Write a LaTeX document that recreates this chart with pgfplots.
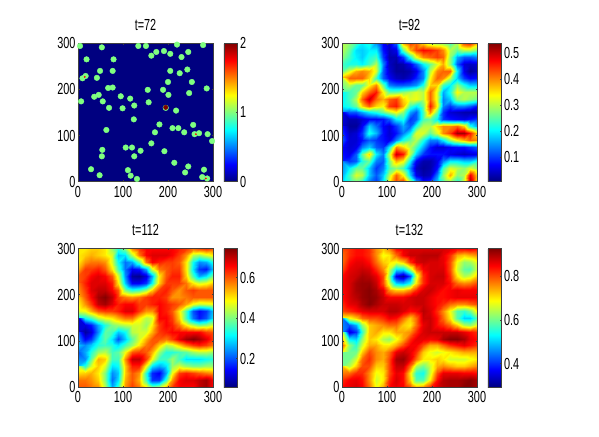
\documentclass[border=0pt]{standalone}
\usepackage{fontspec}
\setmainfont[FakeStretch=0.68]{Liberation Sans}
\usepackage{pgfplots}
\usepackage{pgfplotstable}
\pgfplotsset{compat=1.18}
\definecolor{axgray}{gray}{0.25}
\definecolor{jetbg}{rgb}{0,0,0.5}

% field at t=92, top row is y=300, step 15 in x and y
\pgfplotstableread[row sep=\\,header=false]{
.30\\ .28\\ .24\\ .20\\ .22\\ .15\\ .07\\ .05\\ .12\\ .38\\ .44\\ .42\\ .36\\ .30\\ .28\\ .28\\ .24\\ .30\\ .44\\ .46\\ .38\\
.30\\ .26\\ .19\\ .18\\ .20\\ .20\\ .08\\ .04\\ .06\\ .26\\ .38\\ .44\\ .47\\ .46\\ .44\\ .40\\ .30\\ .26\\ .30\\ .30\\ .27\\
.28\\ .24\\ .20\\ .18\\ .22\\ .24\\ .10\\ .03\\ .03\\ .10\\ .22\\ .33\\ .40\\ .42\\ .44\\ .42\\ .28\\ .16\\ .12\\ .12\\ .14\\
.24\\ .22\\ .22\\ .20\\ .24\\ .30\\ .14\\ .04\\ .02\\ .03\\ .06\\ .12\\ .20\\ .26\\ .32\\ .38\\ .28\\ .12\\ .05\\ .04\\ .05\\
.26\\ .32\\ .38\\ .40\\ .38\\ .32\\ .12\\ .05\\ .02\\ .02\\ .03\\ .06\\ .14\\ .30\\ .40\\ .42\\ .42\\ .20\\ .06\\ .02\\ .04\\
.38\\ .42\\ .42\\ .42\\ .36\\ .24\\ .12\\ .07\\ .04\\ .03\\ .05\\ .09\\ .14\\ .34\\ .42\\ .40\\ .30\\ .18\\ .10\\ .07\\ .08\\
.30\\ .30\\ .26\\ .26\\ .34\\ .40\\ .26\\ .14\\ .12\\ .12\\ .13\\ .15\\ .22\\ .36\\ .36\\ .24\\ .20\\ .28\\ .22\\ .18\\ .18\\
.24\\ .24\\ .26\\ .36\\ .42\\ .46\\ .34\\ .26\\ .26\\ .28\\ .30\\ .32\\ .30\\ .42\\ .32\\ .16\\ .22\\ .34\\ .30\\ .30\\ .30\\
.20\\ .24\\ .30\\ .42\\ .50\\ .42\\ .38\\ .42\\ .44\\ .36\\ .32\\ .33\\ .30\\ .42\\ .32\\ .14\\ .18\\ .28\\ .30\\ .28\\ .26\\
.20\\ .22\\ .26\\ .36\\ .42\\ .36\\ .34\\ .44\\ .46\\ .38\\ .24\\ .20\\ .26\\ .46\\ .34\\ .14\\ .10\\ .14\\ .14\\ .12\\ .08\\
.14\\ .12\\ .12\\ .16\\ .20\\ .22\\ .26\\ .30\\ .34\\ .28\\ .16\\ .12\\ .24\\ .40\\ .26\\ .10\\ .05\\ .04\\ .03\\ .03\\ .03\\
.06\\ .03\\ .03\\ .05\\ .07\\ .07\\ .08\\ .12\\ .20\\ .22\\ .10\\ .12\\ .24\\ .26\\ .20\\ .10\\ .08\\ .07\\ .06\\ .08\\ .10\\
.05\\ .02\\ .02\\ .07\\ .18\\ .13\\ .07\\ .05\\ .10\\ .16\\ .12\\ .22\\ .30\\ .30\\ .36\\ .40\\ .40\\ .42\\ .36\\ .22\\ .16\\
.08\\ .04\\ .05\\ .10\\ .22\\ .17\\ .08\\ .05\\ .08\\ .14\\ .20\\ .32\\ .32\\ .26\\ .32\\ .40\\ .44\\ .52\\ .52\\ .46\\ .36\\
.12\\ .05\\ .05\\ .08\\ .12\\ .10\\ .08\\ .06\\ .14\\ .22\\ .26\\ .30\\ .22\\ .14\\ .14\\ .20\\ .28\\ .34\\ .38\\ .42\\ .40\\
.08\\ .05\\ .06\\ .14\\ .18\\ .12\\ .10\\ .20\\ .40\\ .36\\ .30\\ .24\\ .16\\ .08\\ .05\\ .05\\ .07\\ .08\\ .08\\ .10\\ .12\\
.07\\ .06\\ .12\\ .26\\ .36\\ .20\\ .14\\ .30\\ .50\\ .46\\ .30\\ .18\\ .10\\ .08\\ .08\\ .08\\ .06\\ .05\\ .04\\ .05\\ .06\\
.09\\ .10\\ .12\\ .22\\ .26\\ .14\\ .12\\ .26\\ .38\\ .34\\ .20\\ .07\\ .03\\ .03\\ .06\\ .14\\ .20\\ .20\\ .18\\ .18\\ .22\\
.14\\ .20\\ .26\\ .26\\ .18\\ .10\\ .14\\ .24\\ .28\\ .24\\ .14\\ .04\\ .02\\ .03\\ .08\\ .24\\ .32\\ .30\\ .28\\ .32\\ .28\\
.16\\ .24\\ .32\\ .30\\ .18\\ .12\\ .18\\ .30\\ .42\\ .34\\ .18\\ .06\\ .03\\ .04\\ .14\\ .28\\ .38\\ .28\\ .30\\ .48\\ .36\\
.18\\ .22\\ .26\\ .22\\ .14\\ .10\\ .20\\ .34\\ .44\\ .46\\ .30\\ .16\\ .08\\ .10\\ .18\\ .24\\ .28\\ .22\\ .32\\ .52\\ .34\\
}\fieldB

% field at t=112
\pgfplotstableread[row sep=\\,header=false]{
.50\\ .50\\ .52\\ .52\\ .50\\ .42\\ .34\\ .40\\ .56\\ .62\\ .66\\ .66\\ .66\\ .66\\ .66\\ .64\\ .62\\ .58\\ .60\\ .62\\ .60\\
.50\\ .52\\ .54\\ .52\\ .50\\ .46\\ .28\\ .30\\ .44\\ .58\\ .66\\ .68\\ .68\\ .68\\ .66\\ .62\\ .56\\ .44\\ .42\\ .46\\ .50\\
.50\\ .56\\ .58\\ .58\\ .56\\ .46\\ .32\\ .22\\ .26\\ .38\\ .58\\ .66\\ .64\\ .62\\ .62\\ .60\\ .50\\ .32\\ .24\\ .26\\ .34\\
.54\\ .62\\ .62\\ .64\\ .60\\ .50\\ .36\\ .22\\ .14\\ .16\\ .26\\ .46\\ .58\\ .60\\ .62\\ .62\\ .50\\ .30\\ .18\\ .16\\ .28\\
.60\\ .62\\ .66\\ .68\\ .66\\ .60\\ .46\\ .24\\ .08\\ .07\\ .12\\ .26\\ .50\\ .60\\ .64\\ .64\\ .52\\ .36\\ .26\\ .30\\ .40\\
.60\\ .64\\ .68\\ .68\\ .68\\ .64\\ .50\\ .28\\ .14\\ .14\\ .18\\ .32\\ .52\\ .62\\ .62\\ .62\\ .58\\ .50\\ .46\\ .48\\ .52\\
.58\\ .62\\ .68\\ .70\\ .70\\ .66\\ .60\\ .40\\ .34\\ .36\\ .42\\ .52\\ .62\\ .64\\ .60\\ .56\\ .60\\ .62\\ .60\\ .60\\ .60\\
.54\\ .60\\ .66\\ .72\\ .74\\ .70\\ .62\\ .58\\ .56\\ .58\\ .62\\ .64\\ .64\\ .62\\ .56\\ .56\\ .58\\ .60\\ .60\\ .60\\ .60\\
.52\\ .56\\ .62\\ .70\\ .72\\ .68\\ .64\\ .66\\ .66\\ .62\\ .62\\ .64\\ .66\\ .64\\ .62\\ .60\\ .55\\ .48\\ .45\\ .46\\ .48\\
.46\\ .48\\ .54\\ .60\\ .62\\ .62\\ .64\\ .68\\ .68\\ .62\\ .56\\ .56\\ .66\\ .64\\ .60\\ .50\\ .36\\ .20\\ .15\\ .18\\ .28\\
.30\\ .32\\ .36\\ .44\\ .48\\ .50\\ .54\\ .58\\ .58\\ .50\\ .44\\ .46\\ .66\\ .66\\ .62\\ .52\\ .36\\ .22\\ .16\\ .20\\ .30\\
.12\\ .12\\ .16\\ .26\\ .34\\ .40\\ .42\\ .44\\ .46\\ .46\\ .42\\ .50\\ .62\\ .66\\ .64\\ .58\\ .50\\ .44\\ .40\\ .42\\ .46\\
.12\\ .08\\ .12\\ .24\\ .38\\ .36\\ .28\\ .32\\ .44\\ .46\\ .46\\ .54\\ .62\\ .64\\ .66\\ .66\\ .66\\ .66\\ .66\\ .62\\ .60\\
.20\\ .14\\ .18\\ .30\\ .38\\ .30\\ .20\\ .28\\ .38\\ .46\\ .54\\ .60\\ .60\\ .58\\ .62\\ .68\\ .72\\ .74\\ .72\\ .68\\ .62\\
.28\\ .24\\ .28\\ .34\\ .36\\ .34\\ .30\\ .36\\ .42\\ .50\\ .58\\ .60\\ .52\\ .44\\ .46\\ .52\\ .58\\ .62\\ .64\\ .62\\ .58\\
.22\\ .26\\ .34\\ .42\\ .44\\ .36\\ .38\\ .48\\ .60\\ .62\\ .60\\ .54\\ .42\\ .34\\ .34\\ .36\\ .38\\ .42\\ .44\\ .44\\ .42\\
.20\\ .24\\ .38\\ .54\\ .52\\ .36\\ .36\\ .56\\ .70\\ .70\\ .62\\ .48\\ .36\\ .36\\ .42\\ .36\\ .30\\ .30\\ .30\\ .32\\ .34\\
.28\\ .34\\ .46\\ .52\\ .46\\ .30\\ .32\\ .52\\ .64\\ .64\\ .48\\ .30\\ .26\\ .30\\ .42\\ .46\\ .42\\ .40\\ .40\\ .42\\ .42\\
.44\\ .52\\ .54\\ .50\\ .40\\ .24\\ .28\\ .52\\ .60\\ .56\\ .34\\ .17\\ .14\\ .26\\ .48\\ .62\\ .64\\ .62\\ .60\\ .58\\ .56\\
.58\\ .58\\ .56\\ .52\\ .40\\ .22\\ .30\\ .54\\ .60\\ .54\\ .36\\ .18\\ .18\\ .36\\ .56\\ .66\\ .68\\ .68\\ .70\\ .72\\ .66\\
.60\\ .60\\ .58\\ .56\\ .44\\ .26\\ .36\\ .56\\ .62\\ .58\\ .50\\ .40\\ .44\\ .54\\ .62\\ .66\\ .66\\ .66\\ .70\\ .72\\ .66\\
}\fieldC

% field at t=132
\pgfplotstableread[row sep=\\,header=false]{
.80\\ .82\\ .84\\ .84\\ .82\\ .76\\ .72\\ .76\\ .84\\ .86\\ .87\\ .87\\ .87\\ .87\\ .87\\ .87\\ .86\\ .84\\ .84\\ .85\\ .84\\
.78\\ .82\\ .84\\ .84\\ .82\\ .76\\ .68\\ .70\\ .78\\ .85\\ .88\\ .88\\ .89\\ .89\\ .89\\ .86\\ .82\\ .74\\ .72\\ .74\\ .76\\
.78\\ .84\\ .86\\ .86\\ .84\\ .78\\ .72\\ .70\\ .68\\ .72\\ .82\\ .87\\ .88\\ .87\\ .87\\ .86\\ .80\\ .68\\ .62\\ .63\\ .68\\
.80\\ .86\\ .87\\ .88\\ .87\\ .82\\ .76\\ .66\\ .52\\ .52\\ .64\\ .78\\ .85\\ .87\\ .87\\ .87\\ .80\\ .66\\ .59\\ .58\\ .66\\
.84\\ .87\\ .88\\ .90\\ .89\\ .86\\ .80\\ .62\\ .36\\ .31\\ .42\\ .66\\ .82\\ .87\\ .88\\ .88\\ .82\\ .70\\ .64\\ .66\\ .72\\
.85\\ .87\\ .90\\ .91\\ .91\\ .88\\ .80\\ .66\\ .50\\ .48\\ .54\\ .70\\ .82\\ .87\\ .87\\ .87\\ .84\\ .78\\ .76\\ .77\\ .80\\
.85\\ .87\\ .90\\ .91\\ .92\\ .90\\ .86\\ .76\\ .72\\ .72\\ .76\\ .82\\ .87\\ .88\\ .86\\ .84\\ .85\\ .86\\ .85\\ .85\\ .85\\
.84\\ .87\\ .89\\ .91\\ .92\\ .91\\ .88\\ .85\\ .85\\ .85\\ .87\\ .88\\ .88\\ .86\\ .84\\ .84\\ .85\\ .86\\ .86\\ .86\\ .86\\
.84\\ .86\\ .87\\ .90\\ .92\\ .90\\ .88\\ .88\\ .88\\ .87\\ .87\\ .88\\ .88\\ .86\\ .84\\ .82\\ .78\\ .76\\ .76\\ .78\\ .80\\
.80\\ .82\\ .84\\ .86\\ .87\\ .87\\ .87\\ .89\\ .89\\ .87\\ .84\\ .85\\ .89\\ .87\\ .82\\ .76\\ .68\\ .58\\ .56\\ .60\\ .70\\
.68\\ .68\\ .72\\ .78\\ .80\\ .80\\ .82\\ .85\\ .84\\ .78\\ .72\\ .78\\ .88\\ .88\\ .84\\ .78\\ .70\\ .58\\ .50\\ .50\\ .58\\
.45\\ .42\\ .48\\ .62\\ .72\\ .74\\ .76\\ .78\\ .78\\ .72\\ .70\\ .78\\ .86\\ .88\\ .84\\ .82\\ .78\\ .72\\ .64\\ .62\\ .68\\
.46\\ .35\\ .40\\ .56\\ .72\\ .74\\ .70\\ .70\\ .74\\ .74\\ .76\\ .82\\ .87\\ .88\\ .88\\ .88\\ .88\\ .88\\ .86\\ .84\\ .82\\
.66\\ .52\\ .50\\ .62\\ .72\\ .70\\ .64\\ .62\\ .68\\ .74\\ .82\\ .86\\ .86\\ .85\\ .86\\ .90\\ .92\\ .92\\ .90\\ .86\\ .84\\
.80\\ .62\\ .56\\ .66\\ .74\\ .74\\ .70\\ .70\\ .74\\ .80\\ .85\\ .85\\ .80\\ .74\\ .74\\ .78\\ .82\\ .84\\ .86\\ .84\\ .82\\
.70\\ .60\\ .60\\ .72\\ .80\\ .76\\ .74\\ .78\\ .86\\ .88\\ .86\\ .82\\ .72\\ .68\\ .66\\ .68\\ .70\\ .72\\ .74\\ .74\\ .74\\
.60\\ .60\\ .66\\ .78\\ .82\\ .76\\ .74\\ .80\\ .90\\ .91\\ .86\\ .78\\ .70\\ .70\\ .72\\ .70\\ .66\\ .66\\ .66\\ .68\\ .70\\
.60\\ .64\\ .72\\ .80\\ .80\\ .72\\ .72\\ .80\\ .88\\ .88\\ .78\\ .64\\ .60\\ .66\\ .74\\ .76\\ .74\\ .72\\ .72\\ .74\\ .76\\
.72\\ .78\\ .82\\ .82\\ .76\\ .68\\ .70\\ .80\\ .86\\ .84\\ .70\\ .56\\ .54\\ .66\\ .80\\ .86\\ .86\\ .86\\ .85\\ .85\\ .84\\
.82\\ .85\\ .86\\ .84\\ .76\\ .66\\ .70\\ .82\\ .87\\ .84\\ .72\\ .58\\ .58\\ .70\\ .84\\ .89\\ .90\\ .90\\ .91\\ .92\\ .90\\
.84\\ .86\\ .87\\ .85\\ .78\\ .68\\ .74\\ .84\\ .86\\ .85\\ .80\\ .74\\ .76\\ .82\\ .87\\ .89\\ .90\\ .90\\ .92\\ .92\\ .90\\
}\fieldD

\pgfplotsset{
  panel/.style={
    scale only axis, width=135pt, height=138.5pt,
    anchor=south west,
    xmin=0, xmax=300, ymin=0, ymax=300,
    xtick={0,100,200,300}, ytick={0,100,200,300},
    colormap/jet,
    axis on top,
    axis line style={axgray, line width=0.5pt},
    tick style={axgray, line width=0.4pt},
    major tick length=1.5pt,
    tick align=inside,
    /pgf/number format/assume math mode=true,
    tick label style={font=\fontsize{16}{16}\selectfont},
    xticklabel style={yshift=-1pt},
    yticklabel style={xshift=1pt},
    title style={font=\fontsize{16}{16}\selectfont, yshift=3.5pt},
    colorbar,
  },
  cbar/.style={colorbar style={
    at={(1.08,1)}, anchor=north west,
    scale only axis, width=13.7pt,
    axis line style={axgray, line width=0.5pt},
    tick style={axgray, line width=0.4pt},
    major tick length=1.5pt,
    tick align=inside,
    /pgf/number format/assume math mode=true,
    yticklabel pos=right,
    ytick={#1},
    yticklabel style={font=\fontsize{16}{16}\selectfont, /pgf/number format/fixed, xshift=-1pt},
  }},
  grid field/.style={surf, shader=interp, mesh/rows=21, mesh/cols=21, point meta=explicit},
  drops/.style={scatter, only marks, mark=*, point meta=explicit,
    scatter/use mapped color={draw=mapped color, fill=mapped color}},
}

\begin{document}
\begin{tikzpicture}
\useasboundingbox (0,0) rectangle (599pt,436pt);

% t=72: green drops on an empty field
\begin{axis}[panel, at={(78pt,254.3pt)}, title={t=72},
  point meta min=0, point meta max=2,
  axis background/.style={fill=jetbg},
  cbar={0,1,2}]
\addplot[drops, mark size=2.8pt] table[meta=v] {
x y v
4.5 294 1
53 291 1
134 294 1
151 294 1
220 297 1
278 296 1
19 265 1
79 265 1
163 273 1
174 281 1
191 283 1
205 277 1
230 270 1
245 281 1
49 240 1
77 240 1
205 240 1
226 235 1
243 243 1
42 225 1
17 229 1
10 224 1
200 216 1
253 216 1
67 203 1
77 204 1
155 199 1
189 199 1
201 188 1
247 192 1
286 202 1
36 184 1
46 188 1
95 185 1
116 180 1
7 174 1
55 174 1
69 160 1
99 159 1
125 165 1
157 172 1
195 160 1
218 154 1
124 135 1
181 124 1
256 123 1
63 112 1
210 116 1
223 116 1
171 107 1
236 107 1
259 103 1
269 105 1
288 103 1
298 88 1
163 83 1
106 74 1
120 74 1
54 69 1
139 67 1
192 66 1
53 55 1
125 55 1
214 41 1
245 33 1
29 27 1
111 25 1
280 26 1
238 20 1
48 14 1
117 13 1
131 6 1
276 10 1
287 7 1
};
\addplot[drops, mark size=2.2pt] table[meta=v] {
x y v
195 161 2
};
\addplot[drops, mark size=0.7pt] table[meta=v] {
x y v
15 227 1.75
262 103 1.75
284 7 1.75
};
\end{axis}

\begin{axis}[panel, at={(342pt,254.3pt)}, title={t=92},
  point meta min=0.006, point meta max=0.538, cbar={0.1,0.2,0.3,0.4,0.5}]
\addplot[grid field] table[x index=0, y index=0, x expr={15*mod(\coordindex,21)},
  y expr={300-15*floor(\coordindex/21)}, meta index=0] {\fieldB};
\end{axis}

\begin{axis}[panel, at={(78pt,49pt)}, title={t=112},
  point meta min=0.06, point meta max=0.744, cbar={0.2,0.4,0.6}]
\addplot[grid field] table[x index=0, y index=0, x expr={15*mod(\coordindex,21)},
  y expr={300-15*floor(\coordindex/21)}, meta index=0] {\fieldC};
\end{axis}

\begin{axis}[panel, at={(342pt,49pt)}, title={t=132},
  point meta min=0.293, point meta max=0.925, cbar={0.4,0.6,0.8}]
\addplot[grid field] table[x index=0, y index=0, x expr={15*mod(\coordindex,21)},
  y expr={300-15*floor(\coordindex/21)}, meta index=0] {\fieldD};
\end{axis}
\end{tikzpicture}
\end{document}
